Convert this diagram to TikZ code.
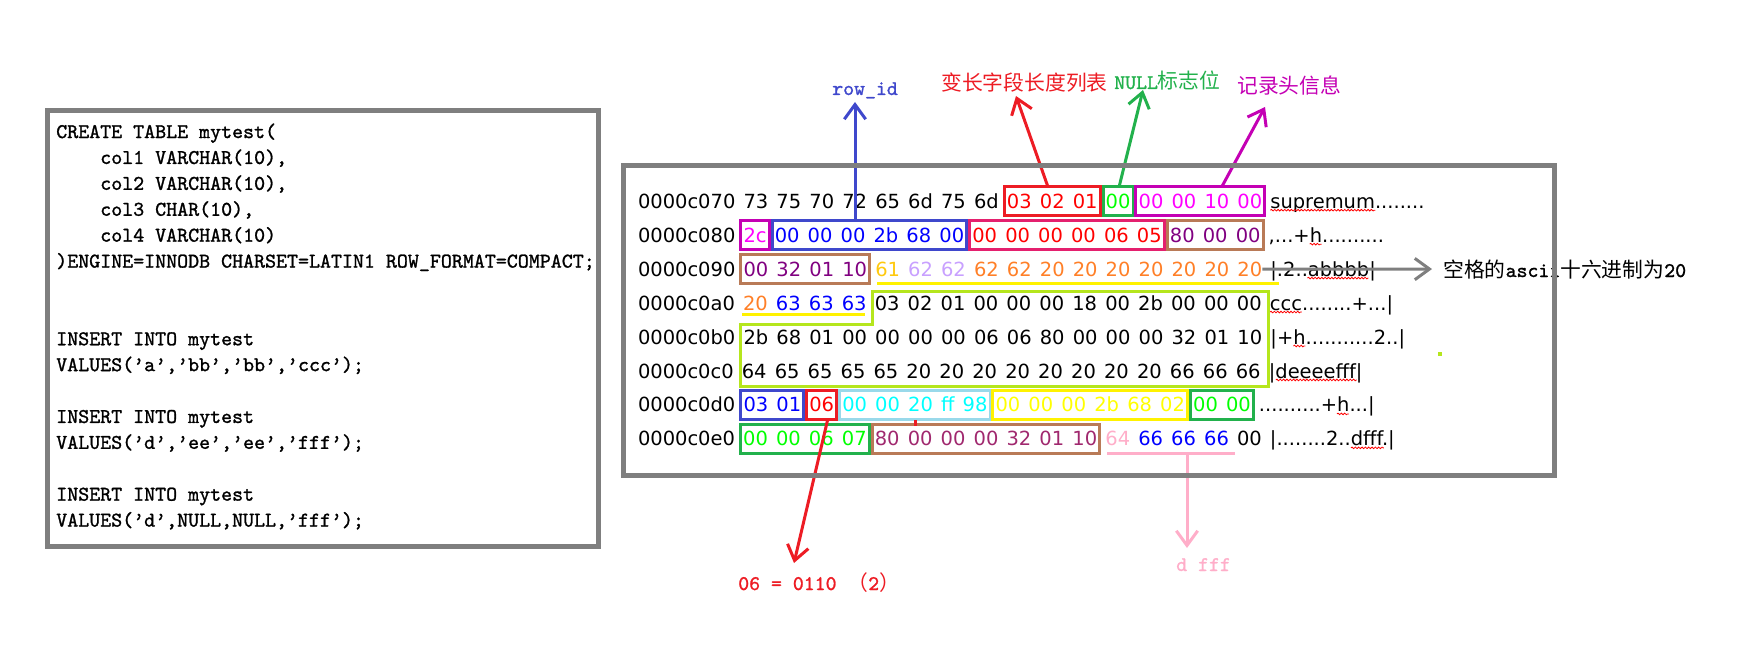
\documentclass[tikz,border=0pt]{standalone}
\usepackage{fontspec}
\usepackage{xcolor}
\usepackage{tikz}
\usetikzlibrary{positioning, calc, arrows.meta, decorations.pathmorphing}

\newfontfamily\hexfont[WordSpace=1.32]{DejaVu Sans}
\newfontfamily\cjk{Noto Sans CJK SC}
\newfontfamily\sqlfont[FakeBold=1.2]{lmmono10-regular.otf}

\definecolor{frameGray}{RGB}{127,127,127}
\definecolor{pRed}{RGB}{237,28,36}
\definecolor{tRed}{RGB}{255,0,0}
\definecolor{pGreen}{RGB}{34,177,76}
\definecolor{tLime}{RGB}{0,255,0}
\definecolor{pMag}{RGB}{196,0,180}
\definecolor{tMag}{RGB}{255,0,255}
\definecolor{pIndigo}{RGB}{63,72,204}
\definecolor{tBlue}{RGB}{0,0,255}
\definecolor{pCrimson}{RGB}{228,32,110}
\definecolor{pBrown}{RGB}{185,122,87}
\definecolor{tPurple}{RGB}{128,0,128}
\definecolor{tPlum}{RGB}{160,40,110}
\definecolor{tGold}{RGB}{255,201,14}
\definecolor{tLav}{RGB}{200,160,255}
\definecolor{tOrange}{RGB}{255,127,39}
\definecolor{pYellow}{RGB}{255,242,0}
\definecolor{tYellow}{RGB}{255,255,0}
\definecolor{tCyan}{RGB}{0,255,255}
\definecolor{pTurq}{RGB}{153,217,234}
\definecolor{pLime}{RGB}{181,230,29}
\definecolor{pPink}{RGB}{255,174,201}

\begin{document}
\begin{tikzpicture}[
    x=0.75pt, y=-0.75pt,
    node distance=6.1pt,
    hexT/.style={inner xsep=0pt, inner ysep=5.55pt, outer sep=0pt, anchor=west,
        text height=10.64pt, text depth=0pt, font=\hexfont\fontsize{14.6pt}{17pt}\selectfont},
    boxB/.style={line width=2.25pt},
    codeL/.style={anchor=base west, inner sep=0pt, font=\sqlfont\fontsize{15.7pt}{18pt}\selectfont},
    lbl/.style={anchor=base west, inner sep=0pt, font=\fontsize{15.6pt}{18pt}\selectfont},
    arr/.style={line width=2.25pt, -{Straight Barb[length=11pt, width=16pt]}},
    frm/.style={draw=frameGray, line width=3.9pt},
    spell/.style={draw=red, line width=0.6pt, decorate, decoration={snake, amplitude=0.6pt, segment length=2.5pt}},
]
\useasboundingbox (0,0) rectangle (1737,663);

% ---- SQL ----
\foreach \i/\xx/\ln in {0/56/{CREATE TABLE mytest(}, 1/100/{col1 VARCHAR(10),},
    2/100/{col2 VARCHAR(10),}, 3/100/{col3 CHAR(10),}, 4/100/{col4 VARCHAR(10)},
    5/56/{)ENGINE=INNODB CHARSET=LATIN1 ROW\_FORMAT=COMPACT;},
    8/56/{INSERT INTO mytest}, 9/56/{VALUES(’a’,’bb’,’bb’,’ccc’);},
    11/56/{INSERT INTO mytest}, 12/56/{VALUES(’d’,’ee’,’ee’,’fff’);},
    14/56/{INSERT INTO mytest}, 15/56/{VALUES(’d’,NULL,NULL,’fff’);}} {
    \node[codeL] (sql\i) at (\xx, 138.05+25.9*\i) {\ln};
}

% ---- hexdump ----
\node[hexT] (o0) at (638,201.2) {0000c070};
\node[hexT, right=of o0] (a0) {73 75 70 72 65 6d 75 6d};
\node[hexT, right=of a0, text=tRed] (b0) {03 02 01};
\node[hexT, right=of b0, text=tLime] (c0) {00};
\node[hexT, right=of c0, text=tMag] (d0) {00 00 10 00};
\node[hexT, right=of d0] (t0) {supremum........};

\node[hexT] (o1) at (638,235.15) {0000c080};
\node[hexT, right=of o1, text=tMag] (a1) {2c};
\node[hexT, right=of a1, text=tBlue] (b1) {00 00 00 2b 68 00};
\node[hexT, right=of b1, text=tRed] (c1) {00 00 00 00 06 05};
\node[hexT, right=of c1, text=tPurple] (d1) {80 00 00};
\node[hexT, right=of d1] (t1) {,...+h..........};

\node[hexT] (o2) at (638,269.1) {0000c090};
\node[hexT, right=of o2, text=tPurple] (a2) {00 32 01 10};
\node[hexT, right=of a2, text=tGold] (b2) {61};
\node[hexT, right=of b2, text=tLav] (c2) {62 62};
\node[hexT, right=of c2, text=tOrange] (d2) {62 62 20 20 20 20 20 20 20};
\node[hexT, right=of d2] (t2) {|.2..abbbb|};

\node[hexT] (o3) at (638,303.05) {0000c0a0};
\node[hexT, right=of o3, text=tOrange] (a3) {20};
\node[hexT, right=of a3, text=tBlue] (b3) {63 63 63};
\node[hexT, right=of b3] (c3) {03 02 01 00 00 00 18 00 2b 00 00 00};
\node[hexT, right=of c3] (t3) {ccc........+...|};

\node[hexT] (o4) at (638,337) {0000c0b0};
\node[hexT, right=of o4] (a4) {2b 68 01 00 00 00 00 06 06 80 00 00 00 32 01 10};
\node[hexT, right=of a4] (t4) {|+h...........2..|};

\node[hexT] (o5) at (638,370.95) {0000c0c0};
\node[hexT, right=of o5] (a5) {64 65 65 65 65 20 20 20 20 20 20 20 20 66 66 66};
\node[hexT, right=of a5] (t5) {|deeeefff|};

\node[hexT] (o6) at (638,404.9) {0000c0d0};
\node[hexT, right=of o6, text=tBlue] (a6) {03 01};
\node[hexT, right=of a6, text=tRed] (b6) {06};
\node[hexT, right=of b6, text=tCyan] (c6) {00 00 20 ff 98};
\node[hexT, right=of c6, text=tYellow] (d6) {00 00 00 2b 68 02};
\node[hexT, right=of d6, text=tLime] (e6) {00 00};
\node[hexT, right=of e6] (t6) {..........+h...|};

\node[hexT] (o7) at (638,438.85) {0000c0e0};
\node[hexT, right=of o7, text=tLime] (a7) {00 00 06 07};
\node[hexT, right=of a7, text=tPlum] (b7) {80 00 00 00 32 01 10};
\node[hexT, right=of b7, text=pPink] (c7) {64};
\node[hexT, right=of c7, text=tBlue] (d7) {66 66 66};
\node[hexT, right=of d7] (e7) {00};
\node[hexT, right=of e7] (t7) {|........2..dfff.|};

% spell-check squiggles under the ascii words
\foreach \n/\dx/\w in {t0/0/105, t1/41/12, t2/37/61, t3/0/32, t4/23/12, t5/7/81, t6/78/12, t7/81/33} {
    \draw[spell] ($(\n.west)+(\dx,9)$) -- ++(\w,0);
}

% ---- boxes ----
\foreach \n/\c in {b0/pRed, c0/pGreen, d0/pMag, a1/pMag, b1/pIndigo, c1/pCrimson, d1/pBrown,
    a2/pBrown, a6/pIndigo, b6/pRed, c6/pTurq, d6/pYellow, e6/pGreen, a7/pGreen, b7/pBrown} {
    \draw[boxB, draw=\c] ([xshift=-2pt]\n.south west) rectangle ([xshift=2pt]\n.north east);
}
\draw[boxB, draw=pYellow] ($(b2.south west)+(2,0)$) -- ($(t2.south west)+(9,0)$);
\draw[boxB, draw=pYellow] ($(a3.south west)+(-1,-3.5)$) -- ($(b3.south east)+(-2,-3.5)$);
\draw[boxB, draw=pLime] ($(c3.west)+(-2,-11.5)$) -- ($(c3.east)+(7,-11.5)$)
    -- ($(c3.east |- a5.east)+(7,15.7)$) -- ($(a4.west |- a5.west)+(-3,15.7)$)
    -- ($(a4.west)+(-3,-13)$) -- ($(c3.west |- a4.west)+(-2,-13)$) -- cycle;
\draw[boxB, draw=pPink] ($(c7.south west)+(2,0)$) -- ($(d7.south east)+(6,0)$);
\fill[pLime] (1438,352) rectangle (1442,356);
\draw[boxB, draw=pRed] (915,420) -- (915,426);

% ---- labels ----
\node[lbl, text=pIndigo] (rid) at (832,95) {\sqlfont row\_id};
\node[lbl, text=pRed] (vlen) at (941,91) {\cjk 变长字段长度列表};
\node[lbl, text=pGreen] (nul) at (1114,89) {{\sqlfont NULL}{\cjk 标志位}};
\node[lbl, text=pMag] (hdr) at (1237,94) {\cjk 记录头信息};
\node[lbl] (note) at (1443,277) {{\cjk 空格的}{\sqlfont ascii}{\cjk 十六进制为}{\sqlfont 20}};
\node[lbl, text=pRed] (bits) at (738,590) {{\sqlfont 06 = 0110 }{\cjk （}{\sqlfont 2}{\cjk ）}};
\node[lbl, text=pPink] (dfff) at (1176,571) {\sqlfont d fff};

\coordinate (ridTip) at (855,102);
\coordinate (vlenTip) at (1016,96);
\coordinate (nulTip) at (1143,90);
\coordinate (hdrTip) at (1265,107);
\coordinate (bitsTip) at (794,563);
\coordinate (pkTip) at (1187,548);

% ---- arrows ----
\draw[arr, draw=pIndigo] (ridTip |- b1.north) -- (ridTip);
\draw[arr, draw=pRed] ($(b0.north)+(-4.4,0)$) -- (vlenTip);
\draw[arr, draw=pGreen] ($(c0.north)+(1,0)$) -- (nulTip);
\draw[arr, draw=pMag] ($(d0.north)+(21.4,0)$) -- (hdrTip);
\draw[arr, draw=pRed] ($(b6.south)+(6,0)$) -- (bitsTip);
\draw[arr, draw=pPink] (pkTip |- d7.south) -- (pkTip);
\draw[arr, draw=frameGray] (d2.east) -- ($(note.west)+(-11,0)$);

% ---- frames ----
\draw[frm] (47.7,110.8) rectangle (598.3,546.8);
\draw[frm] (623.6,165.8) rectangle (1554.7,475.8);

\end{tikzpicture}
\end{document}
